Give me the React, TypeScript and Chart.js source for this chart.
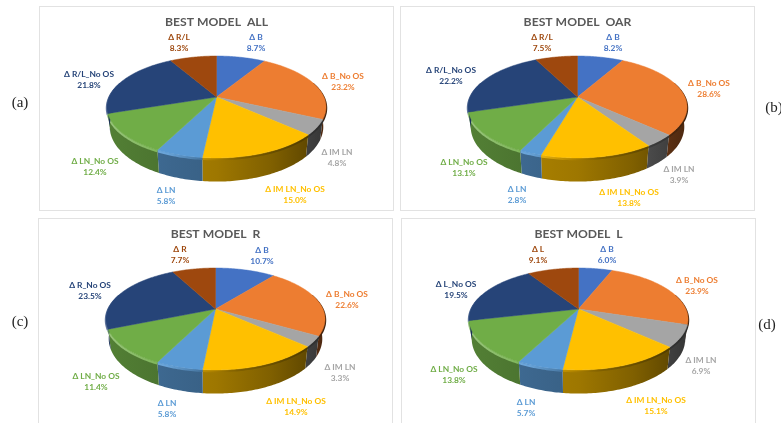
import React, { useEffect, useRef } from "react";
import { Chart, registerables } from "chart.js";

Chart.register(...registerables);

const titles = ["BEST MODEL  ALL", "BEST MODEL  OAR", "BEST MODEL  R", "BEST MODEL  L"];
const panelTags = ["(a)", "(b)", "(c)", "(d)"];

const categoriesAll = ["Δ B", "Δ B_No OS", "Δ IM LN", "Δ IM LN_No OS", "Δ LN", "Δ LN_No OS", "Δ R/L_No OS", "Δ R/L"];
const categoriesOar = ["Δ B", "Δ B_No OS", "Δ IM LN", "Δ IM LN_No OS", "Δ LN", "Δ LN_No OS", "Δ R/L_No OS", "Δ R/L"];
const categoriesR = ["Δ B", "Δ B_No OS", "Δ IM LN", "Δ IM LN_No OS", "Δ LN", "Δ LN_No OS", "Δ R_No OS", "Δ R"];
const categoriesL = ["Δ B", "Δ B_No OS", "Δ IM LN", "Δ IM LN_No OS", "Δ LN", "Δ LN_No OS", "Δ L_No OS", "Δ L"];

const valuesAll = [8.7, 23.2, 4.8, 15.0, 5.8, 12.4, 21.8, 8.3];
const valuesOar = [8.2, 28.6, 3.9, 13.8, 2.8, 13.1, 22.2, 7.5];
const valuesR = [10.7, 22.6, 3.3, 14.9, 5.8, 11.4, 23.5, 7.7];
const valuesL = [6.0, 23.9, 6.9, 15.1, 5.7, 13.8, 19.5, 9.1];

const colors = ["#4472C4", "#ED7D31", "#A5A5A5", "#FFC000", "#5B9BD5", "#70AD47", "#264478", "#9E480E"];

// Layout only: panel boxes and label anchors in page pixels.
const boxes = [
  { x: 39, y: 6, w: 355, h: 205 },
  { x: 400, y: 6, w: 355, h: 205 },
  { x: 38, y: 218, w: 355, h: 215 },
  { x: 401, y: 218, w: 355, h: 215 },
];
const tagPos = [
  { x: 20, y: 103 },
  { x: 774, y: 108 },
  { x: 20, y: 322 },
  { x: 767, y: 325 },
];
const labelAnchors = [
  [[256, 37], [343, 76], [337, 152], [295, 189], [166, 190], [95, 161], [89, 74], [179, 37]],
  [[613, 37], [709, 83], [679, 169], [629, 192], [517, 189], [464, 162], [451, 70], [542, 37]],
  [[262, 250], [347, 294], [340, 367], [296, 401], [167, 403], [96, 376], [90, 285], [180, 249]],
  [[607, 249], [697, 280], [701, 360], [656, 400], [526, 402], [454, 369], [456, 284], [538, 249]],
];

const PIE = { cy: 91, k: 0.196, A: 49, R: 107.4, depth: 19, shrink: 0.975 };

function hexRgb(h: string) {
  return [1, 3, 5].map((i) => parseInt(h.slice(i, i + 2), 16));
}
function mix(c: number[], f: number) {
  const m = f <= 1 ? c.map((v) => v * f) : c.map((v) => v + (255 - v) * (f - 1));
  return `rgb(${m.map((v) => Math.round(v)).join(",")})`;
}

const pie3d = {
  id: "pie3d",
  beforeDatasetsDraw(chart: any, _a: any, opts: any) {
    const ctx = chart.ctx;
    const cx = chart.width / 2;
    const { cy, k, A, R, depth, shrink } = PIE;
    const arcs = chart.getDatasetMeta(0).data;
    const top = (th: number) => {
      const x = Math.sin(th), y = Math.cos(th), w = 1 + k * y;
      return [cx + (R * x) / w, cy - (A * y) / w];
    };
    const bottom = (th: number) => {
      const x = Math.sin(th), y = Math.cos(th), w = 1 + k * y;
      return [cx + (shrink * R * x) / w, cy - (A * y) / w + depth / w];
    };
    const angles = arcs.map((a: any) => [a.startAngle + Math.PI / 2, a.endAngle + Math.PI / 2]);
    const step = Math.PI / 180;
    const frontFrom = Math.PI * 0.4;
    const frontTo = Math.PI * 1.6;
    const x0 = cx - R * 1.02;
    const x1 = cx + R * 1.02;

    // side wall of each slice, shaded across the pie
    arcs.forEach((_: any, i: number) => {
      const a0 = Math.max(angles[i][0], frontFrom);
      const a1 = Math.min(angles[i][1], frontTo);
      if (a1 <= a0) return;
      const base = hexRgb(colors[i]);
      const wall = ctx.createLinearGradient(x0, 0, x1, 0);
      wall.addColorStop(0, mix(base, 0.74));
      wall.addColorStop(0.3, mix(base, 0.66));
      wall.addColorStop(0.5, mix(base, 0.62));
      wall.addColorStop(0.75, mix(base, 0.5));
      wall.addColorStop(1, mix(base, 0.32));
      const pts: number[][] = [];
      for (let th = a0; th < a1; th += step) pts.push([th]);
      pts.push([a1]);
      ctx.fillStyle = wall;
      ctx.beginPath();
      pts.forEach(([th], j) => {
        const p = top(th);
        if (j === 0) ctx.moveTo(p[0], p[1]);
        else ctx.lineTo(p[0], p[1]);
      });
      [...pts].reverse().forEach(([th]) => {
        const q = bottom(th);
        ctx.lineTo(q[0], q[1]);
      });
      ctx.closePath();
      ctx.fill();

      // bevel band just under the rim
      const rim = ctx.createLinearGradient(x0, 0, x1, 0);
      rim.addColorStop(0, mix(base, 1.28));
      rim.addColorStop(0.28, mix(base, 1.08));
      rim.addColorStop(0.45, mix(base, 0.72));
      rim.addColorStop(0.6, mix(base, 0.5));
      rim.addColorStop(1, mix(base, 0.26));
      ctx.strokeStyle = rim;
      ctx.lineWidth = 2.4;
      ctx.beginPath();
      pts.forEach(([th], j) => {
        const p = top(th);
        if (j === 0) ctx.moveTo(p[0], p[1] + 1.2);
        else ctx.lineTo(p[0], p[1] + 1.2);
      });
      ctx.stroke();
    });

    // top face
    arcs.forEach((_: any, i: number) => {
      const [a0, a1] = angles[i];
      ctx.fillStyle = colors[i];
      ctx.strokeStyle = colors[i];
      ctx.lineWidth = 0.5;
      ctx.beginPath();
      ctx.moveTo(cx, cy);
      for (let th = a0; th < a1; th += step) {
        const p = top(th);
        ctx.lineTo(p[0], p[1]);
      }
      const e = top(a1);
      ctx.lineTo(e[0], e[1]);
      ctx.closePath();
      ctx.fill();
      ctx.stroke();
    });

    // data labels
    ctx.textAlign = "center";
    ctx.textBaseline = "middle";
    ctx.font = "bold 8.4px Lato";
    const box = opts.box;
    const vals = chart.data.datasets[0].data;
    chart.data.labels.forEach((lab: string, i: number) => {
      const [ax, ay] = opts.anchors[i];
      ctx.fillStyle = colors[i];
      ctx.fillText(lab, ax - box.x, ay - box.y);
      ctx.fillText(vals[i].toFixed(1) + "%", ax - box.x, ay - box.y + 10.8);
    });
    return false;
  },
};

function Panel({ index, labels, values }: { index: number; labels: string[]; values: number[] }) {
  const ref = useRef<HTMLCanvasElement>(null);
  const box = boxes[index];
  useEffect(() => {
    const chart = new Chart(ref.current as HTMLCanvasElement, {
      type: "pie",
      data: { labels, datasets: [{ data: values, backgroundColor: colors, borderWidth: 0 }] },
      options: {
        animation: false,
        responsive: false,
        events: [],
        layout: { padding: 0 },
        plugins: {
          legend: { display: false },
          tooltip: { enabled: false },
          title: {
            display: true,
            text: titles[index],
            color: "#595959",
            font: { family: "Lato", size: 12.2, weight: "bold" },
            padding: { top: 8.5, bottom: 4 },
          },
          pie3d: { anchors: labelAnchors[index], box },
        },
      } as any,
      plugins: [pie3d as any],
    });
    return () => chart.destroy();
  }, []);
  return (
    <>
      <div
        style={{
          position: "absolute",
          left: box.x,
          top: box.y,
          width: box.w,
          height: box.h,
          boxSizing: "border-box",
          border: "1px solid #e2e2e2",
          background: "#fff",
        }}
      />
      <canvas
        ref={ref}
        width={box.w}
        height={box.h}
        style={{ position: "absolute", left: box.x, top: box.y, width: box.w, height: box.h, filter: "blur(0.4px)" }}
      />
      <div
        style={{
          position: "absolute",
          left: tagPos[index].x - 20,
          top: tagPos[index].y - 9,
          width: 40,
          lineHeight: "18px",
          textAlign: "center",
          font: "15px 'Liberation Serif'",
          color: "#222",
        }}
      >
        {panelTags[index]}
      </div>
    </>
  );
}

export default function App() {
  return (
    <div style={{ position: "absolute", left: 0, top: 0, width: 781, height: 423, overflow: "hidden", background: "#fff" }}>
      <Panel index={0} labels={categoriesAll} values={valuesAll} />
      <Panel index={1} labels={categoriesOar} values={valuesOar} />
      <Panel index={2} labels={categoriesR} values={valuesR} />
      <Panel index={3} labels={categoriesL} values={valuesL} />
    </div>
  );
}
